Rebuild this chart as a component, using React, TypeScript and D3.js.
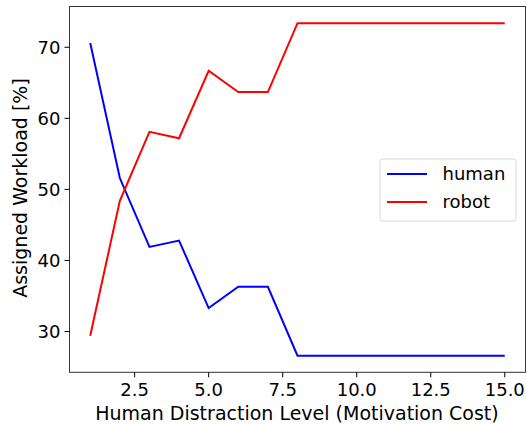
import React from "react";
import * as d3 from "d3";

const xs = [1, 2, 3, 4, 5, 6, 7, 8, 9, 10, 11, 12, 13, 14, 15];
const human = [70.6, 51.6, 41.9, 42.8, 33.3, 36.3, 36.3, 26.6, 26.6, 26.6, 26.6, 26.6, 26.6, 26.6, 26.6];
const robot = [29.4, 48.4, 58.1, 57.2, 66.7, 63.7, 63.7, 73.4, 73.4, 73.4, 73.4, 73.4, 73.4, 73.4, 73.4];
const xTicks = [2.5, 5.0, 7.5, 10.0, 12.5, 15.0];
const yTicks = [30, 40, 50, 60, 70];
const seriesNames = ["human", "robot"];
const seriesColors = ["#0000ff", "#ff0000"];

const W = 527, H = 425;
const L = 69.5, R = 525.5, T = 6.5, B = 372.3;

export default function App() {
  const x = d3.scaleLinear().domain([0.3, 15.7]).range([L, R]);
  const y = d3.scaleLinear().domain([24.26, 75.74]).range([B, T]);
  const line = d3.line<number>().x((_, i) => x(xs[i])).y((d) => y(d));
  const series = [human, robot];
  const font = "DejaVu Sans, sans-serif";
  const fs = 18;
  const lfs = 19;
  return (
    <svg width={W} height={H} style={{ position: "absolute", left: 0, top: 0, fontFamily: font }}>
      <rect x={0} y={0} width={W} height={H} fill="white" />
      {series.map((s, i) => (
        <path key={i} d={line(s) || ""} fill="none" stroke={seriesColors[i]} strokeWidth={2} />
      ))}
      <rect x={L} y={T} width={R - L} height={B - T} fill="none" stroke="#333" strokeWidth={1} />
      {xTicks.map((t) => (
        <g key={t} transform={`translate(${x(t)},${B})`}>
          <line y1={0} y2={5} stroke="#000" strokeWidth={1} />
          <text y={24} textAnchor="middle" fontSize={fs} fill="#000">{t.toFixed(1)}</text>
        </g>
      ))}
      {yTicks.map((t) => (
        <g key={t} transform={`translate(${L},${y(t)})`}>
          <line x1={0} x2={-5} stroke="#000" strokeWidth={1} />
          <text x={-9} dy="0.36em" textAnchor="end" fontSize={fs} fill="#000">{t}</text>
        </g>
      ))}
      <text x={297} y={419.5} textAnchor="middle" fontSize={lfs} fill="#000">
        Human Distraction Level (Motivation Cost)
      </text>
      <text transform={`translate(27,${188}) rotate(-90)`} textAnchor="middle" fontSize={lfs} fill="#000">
        Assigned Workload [%]
      </text>
      <g>
        <rect x={380} y={159} width={136} height={62} rx={3} fill="white" fillOpacity={0.8} stroke="#d9d9d9" strokeWidth={1} />
        {seriesNames.map((n, i) => (
          <g key={n} transform={`translate(0,${174 + i * 28})`}>
            <line x1={387} x2={427} stroke={seriesColors[i]} strokeWidth={2} />
            <text x={442.5} dy="0.36em" fontSize={fs} fill="#000">{n}</text>
          </g>
        ))}
      </g>
    </svg>
  );
}
